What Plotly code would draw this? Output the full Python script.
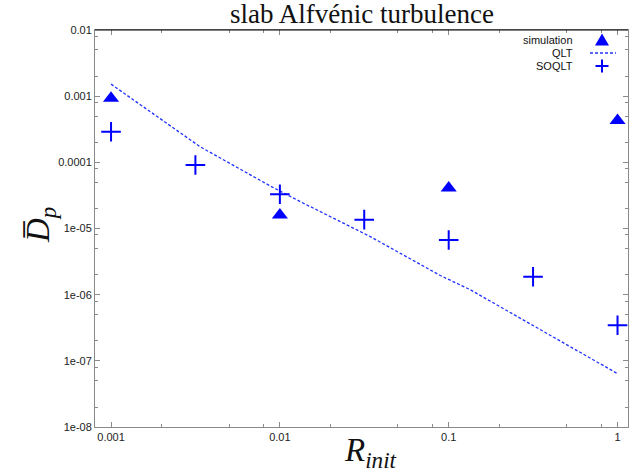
import plotly.graph_objects as go

# ---- data ----
sim_x = [0.001, 0.01, 0.1, 1.0]
sim_y = [9.3e-4, 1.6e-5, 4.1e-5, 4.3e-4]

qlt_x = [0.001, 0.00337, 0.00876, 0.0132, 0.0343, 0.0891, 0.134, 0.349, 1.0]
qlt_y = [1.52e-3, 1.72e-4, 4.4e-5, 2.55e-5, 7.55e-6, 1.95e-6, 1.19e-6, 2.96e-7, 6.4e-8]

soqlt_x = [0.001, 0.00316, 0.01, 0.0316, 0.1, 0.316, 1.0]
soqlt_y = [2.9e-4, 9.1e-5, 3.3e-5, 1.36e-5, 6.7e-6, 1.87e-6, 3.45e-7]

x_tickvals = [0.001, 0.01, 0.1, 1]
x_ticktext = ["0.001", "0.01", "0.1", "1"]
y_tickvals = [1e-2, 1e-3, 1e-4, 1e-5, 1e-6, 1e-7, 1e-8]
y_ticktext = ["0.01", "0.001", "0.0001", "1e-05", "1e-06", "1e-07", "1e-08"]
minor_mult = [2, 5, 8]

BLUE = "#0000ff"
AX = "#8a8a8a"

fig = go.Figure()
fig.add_trace(go.Scatter(x=qlt_x, y=qlt_y, mode="lines", name="QLT",
                         line=dict(color="#2233ff", width=1.3, dash="3px,2px")))
fig.add_trace(go.Scatter(x=sim_x, y=sim_y, mode="markers", name="simulation",
                         marker=dict(symbol="triangle-up", size=14, color=BLUE,
                                     line=dict(width=0))))
fig.add_trace(go.Scatter(x=soqlt_x, y=soqlt_y, mode="markers", name="SOQLT",
                         marker=dict(symbol="cross-thin", size=14,
                                     line=dict(color=BLUE, width=2))))

x_minor = [m * 10 ** e for e in range(-4, 1) for m in minor_mult]
y_minor = [m * 10 ** e for e in range(-9, -2) for m in minor_mult]

fig.update_xaxes(type="log", range=[-3.095, 0.062], showgrid=False, zeroline=False,
                 showline=True, linecolor=AX, linewidth=1, mirror="ticks",
                 ticks="inside", ticklen=5, tickcolor=AX, tickwidth=1,
                 tickmode="array", tickvals=x_tickvals, ticktext=x_ticktext,
                 tickfont=dict(family="Liberation Sans", size=11, color="#222"),
                 minor=dict(tickmode="array", tickvals=x_minor, ticks="inside",
                            ticklen=3, tickcolor=AX, showgrid=False))
fig.update_yaxes(type="log", range=[-8, -2], showgrid=False, zeroline=False,
                 showline=True, linecolor=AX, linewidth=1, mirror="ticks",
                 ticks="inside", ticklen=5, tickcolor=AX, tickwidth=1,
                 tickmode="array", tickvals=y_tickvals, ticktext=y_ticktext,
                 tickfont=dict(family="Liberation Sans", size=11, color="#222"),
                 minor=dict(tickmode="array", tickvals=y_minor, ticks="inside",
                            ticklen=3, tickcolor=AX, showgrid=False))

W, H = 629, 474
ml, mr, mt, mb = 95, 1, 30, 47
pw, ph = W - ml - mr, H - mt - mb
def paper_x(pxl):
    return (pxl - ml) / pw
def paper_y(pyl):
    return 1 - (pyl - mt) / ph

shapes = [
    # black top border
    dict(type="line", xref="paper", yref="paper", x0=0, x1=1, y0=1, y1=1,
         line=dict(color="black", width=1.2)),
]

annotations = [
    dict(text="slab Alfvénic turbulence", x=paper_x(362), y=paper_y(14), xref="paper", yref="paper",
         showarrow=False, xanchor="center", yanchor="middle",
         font=dict(family="Liberation Serif", size=27, color="#111")),
    dict(text="<i>R</i><sub><i>init</i></sub>", x=paper_x(370), y=paper_y(452),
         xref="paper", yref="paper", showarrow=False, xanchor="center", yanchor="middle",
         font=dict(family="Liberation Serif", size=33, color="#111")),
    dict(text="<i>D\u0305</i><sub><i>p</i></sub>", x=paper_x(40), y=paper_y(225),
         xref="paper", yref="paper", showarrow=False, xanchor="center", yanchor="middle",
         textangle=-90, font=dict(family="Liberation Serif", size=33, color="#111")),
]
leg_rows = [("simulation", 40), ("QLT", 53), ("SOQLT", 66)]
for t, yy in leg_rows:
    annotations.append(dict(text=t, x=paper_x(575), y=paper_y(yy), xref="paper", yref="paper",
                            showarrow=False, xanchor="right", yanchor="middle",
                            font=dict(family="Liberation Sans", size=11, color="#111")))
# legend keys (gnuplot style: text then sample)
tx, ty = 602, 40
shapes.append(dict(type="path", xref="paper", yref="paper", fillcolor=BLUE,
                   line=dict(width=0),
                   path=f"M {paper_x(tx-7)} {paper_y(ty+5.5)} L {paper_x(tx+7)} {paper_y(ty+5.5)} L {paper_x(tx)} {paper_y(ty-6.5)} Z"))
shapes.append(dict(type="line", xref="paper", yref="paper",
                   x0=paper_x(590), x1=paper_x(616), y0=paper_y(53), y1=paper_y(53),
                   line=dict(color="#2233ff", width=1.3, dash="3px,2px")))
shapes.append(dict(type="line", xref="paper", yref="paper",
                   x0=paper_x(tx-6.5), x1=paper_x(tx+6.5), y0=paper_y(66), y1=paper_y(66),
                   line=dict(color=BLUE, width=2)))
shapes.append(dict(type="line", xref="paper", yref="paper",
                   x0=paper_x(tx), x1=paper_x(tx), y0=paper_y(59.5), y1=paper_y(72.5),
                   line=dict(color=BLUE, width=2)))

fig.update_layout(width=W, height=H, margin=dict(l=ml, r=mr, t=mt, b=mb),
                  paper_bgcolor="white", plot_bgcolor="white", showlegend=False,
                  shapes=shapes, annotations=annotations)
fig.write_html("out.html")
